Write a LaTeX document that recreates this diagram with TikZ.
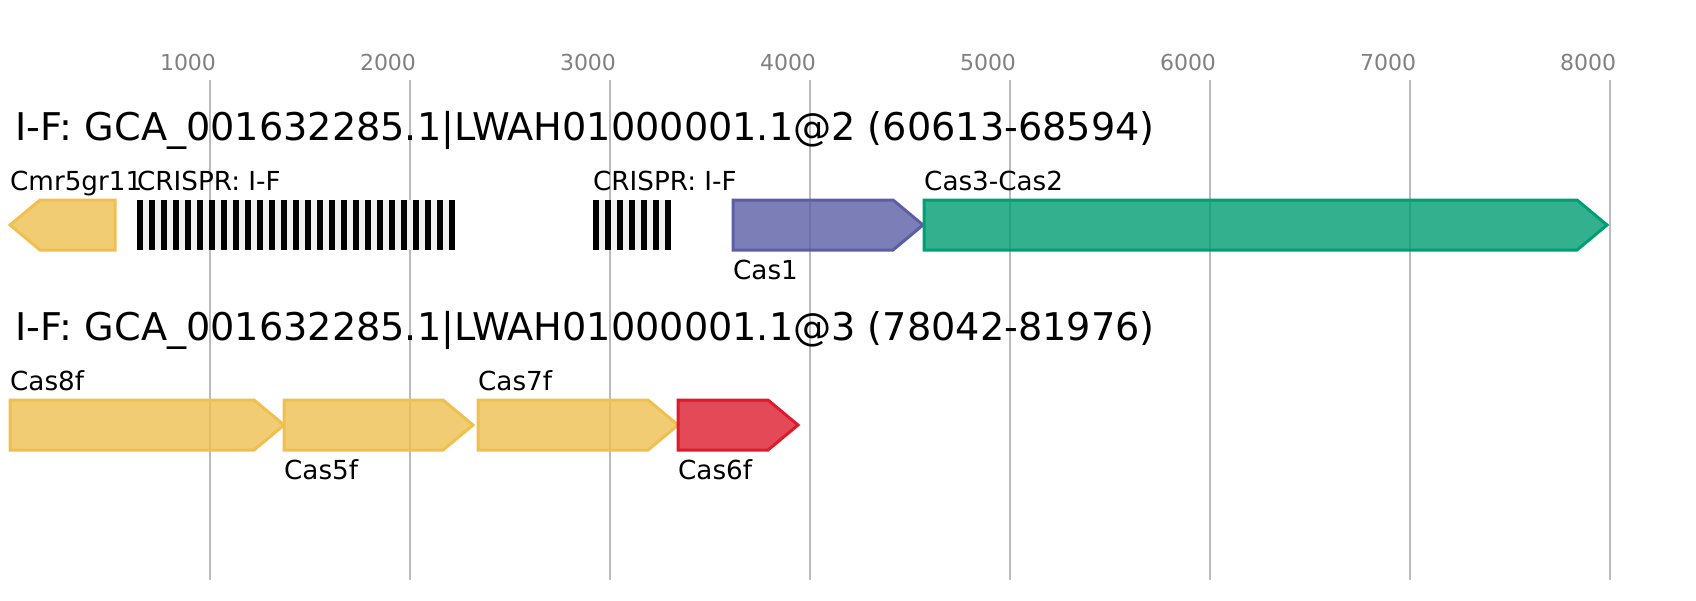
\documentclass[tikz,border=0pt]{standalone}
\usepackage{fontspec}
\setmainfont{DejaVu Sans}
\definecolor{cyel}{HTML}{EFBF50}
\definecolor{cpur}{HTML}{5B5EA6}
\definecolor{cgrn}{HTML}{009E73}
\definecolor{cred}{HTML}{DC1B2C}
\definecolor{cgrid}{HTML}{BBBBBB}
\definecolor{ctick}{HTML}{808080}
\definecolor{cspacer}{HTML}{F0F0F0}
\tikzset{
  gene/.style={line width=3pt, line join=miter, fill opacity=0.8},
  gridline/.style={draw=cgrid, line width=1.5pt},
  ticklabel/.style={anchor=base, inner sep=0pt, text=ctick, font=\fontsize{22}{22}\selectfont},
  titlelabel/.style={anchor=base west, inner sep=0pt, font=\fontsize{38.2}{38.2}\selectfont},
  glabel/.style={anchor=base west, inner sep=0pt, font=\fontsize{26.2}{26.2}\selectfont},
}
\begin{document}
\begin{tikzpicture}[x=1pt,y=-1pt]
\useasboundingbox (0,0) rectangle (1696,600);
% grid and ticks
\foreach \k/\lab in {0/1000,1/2000,2/3000,3/4000,4/5000,5/6000,6/7000,7/8000}{
  \draw[gridline] ({210+200*\k},80) -- ({210+200*\k},580);
  \node[ticklabel] (tick\k) at ({188+200*\k},70) {\lab};
}
% row 1
\node[titlelabel] (title1) at (15.5,140) {I-F: GCA\_001632285.1|LWAH01000001.1@2 (60613-68594)};
\draw[gene, draw=cyel, fill=cyel] (10,225) -- (40,200) -- (115,200) -- (115,250) -- (40,250) -- cycle;
\node[glabel] (lcmr) at (10,190) {Cmr5gr11};
\fill[cspacer] (137,200) rectangle (455,250);
\foreach \i in {0,...,26}{\fill[black] ({137+12*\i},200) rectangle ++(6,50);}
\node[glabel] (lcr1) at (137,190) {CRISPR: I-F};
\fill[cspacer] (593,200) rectangle (671,250);
\foreach \i in {0,...,6}{\fill[black] ({593+12*\i},200) rectangle ++(6,50);}
\node[glabel] (lcr2) at (593,190) {CRISPR: I-F};
\draw[gene, draw=cpur, fill=cpur] (733,200) -- (893,200) -- (923,225) -- (893,250) -- (733,250) -- cycle;
\node[glabel] (lcas1) at (733,279) {Cas1};
\draw[gene, draw=cgrn, fill=cgrn] (924,200) -- (1577,200) -- (1607,225) -- (1577,250) -- (924,250) -- cycle;
\node[glabel] (lcas3) at (924,190) {Cas3-Cas2};
% row 2
\node[titlelabel] (title2) at (15.5,340) {I-F: GCA\_001632285.1|LWAH01000001.1@3 (78042-81976)};
\draw[gene, draw=cyel, fill=cyel] (10,400) -- (254,400) -- (284,425) -- (254,450) -- (10,450) -- cycle;
\node[glabel] (lcas8) at (10,390) {Cas8f};
\draw[gene, draw=cyel, fill=cyel] (284,400) -- (443,400) -- (473,425) -- (443,450) -- (284,450) -- cycle;
\node[glabel] (lcas5) at (284,479) {Cas5f};
\draw[gene, draw=cyel, fill=cyel] (478,400) -- (648,400) -- (678,425) -- (648,450) -- (478,450) -- cycle;
\node[glabel] (lcas7) at (478,390) {Cas7f};
\draw[gene, draw=cred, fill=cred] (678,400) -- (768,400) -- (798,425) -- (768,450) -- (678,450) -- cycle;
\node[glabel] (lcas6) at (678,479) {Cas6f};
\end{tikzpicture}
\end{document}
